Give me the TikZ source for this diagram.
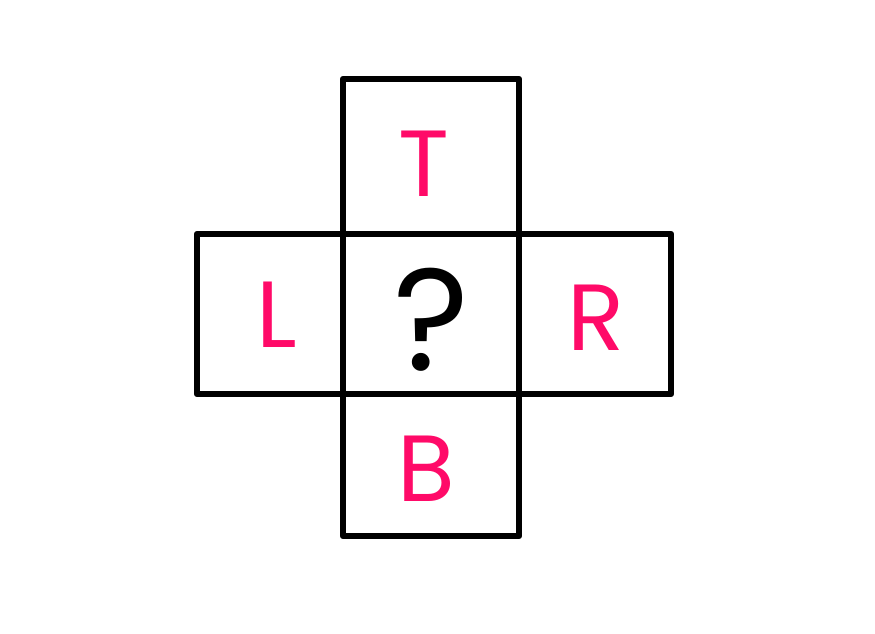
\documentclass[tikz,border=0pt]{standalone}
\usepackage{fontspec}
\setmainfont{Poppins}
\definecolor{letterpink}{HTML}{FF0A68}
\tikzset{
    cell/.style={draw=black, line width=6.5pt, line join=round, inner sep=0pt},
    letter/.style={text=letterpink, font=\fontsize{94}{94}\selectfont, inner sep=0pt},
}
\begin{document}
\begin{tikzpicture}[x=1pt, y=-1pt]
    \useasboundingbox (0,0) rectangle (875,634);
    % cells of the cross
    \node[cell, minimum width=176pt, minimum height=155pt] (top) at (431,156.5) {};
    \node[cell, minimum width=146pt, minimum height=160pt] (left) at (270,314) {};
    \node[cell, minimum width=176pt, minimum height=160pt] (mid) at (431,314) {};
    \node[cell, minimum width=152pt, minimum height=160pt] (right) at (595,314) {};
    \node[cell, minimum width=176pt, minimum height=142pt] (bottom) at (431,465) {};

\node[letter] (tl) at (424,164) {T};
\node[letter] (ll) at (277,315) {L};
\node[letter, text=black, font=\fontsize{145}{145}\selectfont] (ql) at (431,320) {?};
\node[letter] (rl) at (596,318) {R};
\node[letter] (bl) at (426,469) {B};
\end{tikzpicture}
\end{document}
